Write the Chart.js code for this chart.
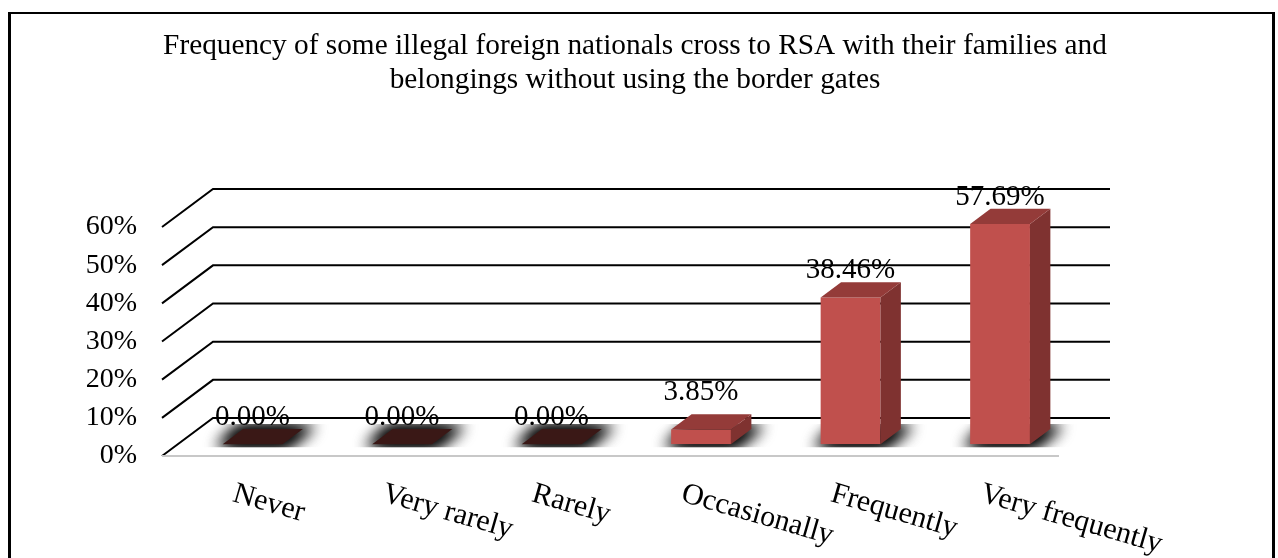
<!DOCTYPE html>
<html>
<head>
<meta charset="utf-8">
<script src="https://cdn.jsdelivr.net/npm/chart.js@4.4.1/dist/chart.umd.min.js"></script>
<style>
  html, body { margin: 0; padding: 0; background: #fff; overflow: hidden; }
  #wrap { position: relative; width: 1278px; height: 558px; }
  #frame {
    position: absolute; left: 8px; top: 12px; width: 1267px; height: 620px;
    box-sizing: border-box; border: 3px solid #000; border-top-width: 2px;
    pointer-events: none;
  }
</style>
</head>
<body>
<div id="wrap">
  <canvas id="chart" width="1278" height="558"></canvas>
  <div id="frame"></div>
</div>
<script>
// Response categories and share of respondents (%)
const categories = ['Never', 'Very rarely', 'Rarely', 'Occasionally', 'Frequently', 'Very frequently'];
const shares = [0.00, 0.00, 0.00, 3.85, 38.46, 57.69];
const titleLines = [
  'Frequency of some illegal foreign nationals cross to RSA with their families and',
  'belongings without using the border gates'
];
const axisMin = 0;
const axisMax = 60;
const axisStep = 10;

const SERIF = "'Times New Roman', 'Liberation Serif', serif";

// 3D projection of the floor depth, and where bars sit inside it
const DEPTH = { dx: 51, dy: -38 };
const BAR_FRONT = 0.31;
const BAR_DEPTH = 0.40;

const COLORS = {
  front: '#c0504d',
  side: '#7f3230',
  top: '#943b39',
  zeroTop: '#3a1816',
  grid: '#000000',
  floorEdge: '#c8c8c8'
};

const bars3d = {
  id: 'bars3d',
  beforeDatasetsDraw(chart) {
    const { ctx, chartArea: a, scales: { y } } = chart;
    const fx = DEPTH.dx * BAR_FRONT, fy = DEPTH.dy * BAR_FRONT;
    const bx = DEPTH.dx * BAR_DEPTH, by = DEPTH.dy * BAR_DEPTH;

    ctx.save();
    // side-wall and back-wall gridlines
    ctx.strokeStyle = COLORS.grid;
    ctx.lineWidth = 2;
    y.ticks.forEach(t => {
      const py = y.getPixelForValue(t.value);
      ctx.beginPath();
      ctx.moveTo(a.left, py);
      ctx.lineTo(a.left + DEPTH.dx, py + DEPTH.dy);
      ctx.lineTo(a.right + DEPTH.dx, py + DEPTH.dy);
      ctx.stroke();
    });
    // front edge of the floor
    ctx.strokeStyle = COLORS.floorEdge;
    ctx.beginPath();
    ctx.moveTo(a.left, a.bottom);
    ctx.lineTo(a.right, a.bottom);
    ctx.stroke();

    // soft shadows around each bar footprint
    const meta = chart.getDatasetMeta(0);
    const OFF = 5000;
    meta.data.forEach(bar => {
      const { x, base, width } = bar.getProps(['x', 'base', 'width'], true);
      const xl = x - width / 2 + fx, xr = x + width / 2 + fx, yb = base + fy;
      ctx.save();
      ctx.beginPath();
      ctx.rect(xl - 60, yb + by - 5, width + bx + 120, -by + 8);
      ctx.clip();
      ctx.shadowColor = 'rgba(0,0,0,1)';
      ctx.shadowBlur = 16;
      ctx.shadowOffsetX = OFF;
      ctx.fillStyle = '#000';
      for (let k = 0; k < 2; k++) {
        ctx.beginPath();
        ctx.moveTo(xl - 6 - OFF, yb + 3);
        ctx.lineTo(xr + 3 - OFF, yb + 3);
        ctx.lineTo(xr + bx + 12 - OFF, yb + by - 3);
        ctx.lineTo(xl + bx - 3 - OFF, yb + by - 3);
        ctx.closePath();
        ctx.fill();
      }
      ctx.restore();
    });
    ctx.restore();

    // front faces are drawn by Chart.js, pushed into the floor depth
    ctx.save();
    ctx.translate(fx, fy);
  },
  afterDatasetsDraw(chart) {
    const { ctx, scales: { x: xs } } = chart;
    ctx.restore();
    const fx = DEPTH.dx * BAR_FRONT, fy = DEPTH.dy * BAR_FRONT;
    const bx = DEPTH.dx * BAR_DEPTH, by = DEPTH.dy * BAR_DEPTH;
    const meta = chart.getDatasetMeta(0);
    const values = chart.data.datasets[0].data;

    ctx.save();
    meta.data.forEach((bar, i) => {
      const { x, y, base, width } = bar.getProps(['x', 'y', 'base', 'width'], true);
      const xl = x - width / 2 + fx, xr = x + width / 2 + fx;
      const yt = y + fy, yb = base + fy;
      if (yb - yt > 0.5) {
        ctx.fillStyle = COLORS.side;
        ctx.beginPath();
        ctx.moveTo(xr, yb);
        ctx.lineTo(xr + bx, yb + by);
        ctx.lineTo(xr + bx, yt + by);
        ctx.lineTo(xr, yt);
        ctx.closePath();
        ctx.fill();
      }
      ctx.fillStyle = values[i] > 0 ? COLORS.top : COLORS.zeroTop;
      ctx.beginPath();
      ctx.moveTo(xl, yt);
      ctx.lineTo(xr, yt);
      ctx.lineTo(xr + bx, yt + by);
      ctx.lineTo(xl + bx, yt + by);
      ctx.closePath();
      ctx.fill();

      // value label above the bar
      let ly = yt - 19;
      if (values[i] > 0) ly = Math.min(ly, yb - 44);
      ctx.fillStyle = '#000';
      ctx.font = '29px ' + SERIF;
      ctx.textAlign = 'center';
      ctx.textBaseline = 'alphabetic';
      ctx.fillText(values[i].toFixed(2) + '%', x + fx, ly);
    });

    // slanted category labels along the floor
    ctx.font = '30px ' + SERIF;
    ctx.textAlign = 'left';
    ctx.textBaseline = 'top';
    ctx.fillStyle = '#000';
    chart.data.labels.forEach((lab, i) => {
      const px = xs.getPixelForValue(i);
      ctx.save();
      ctx.translate(px + 1, 479);
      ctx.rotate(16 * Math.PI / 180);
      ctx.fillText(lab, 0, 0);
      ctx.restore();
    });
    ctx.restore();
  }
};

new Chart(document.getElementById('chart'), {
  type: 'bar',
  data: {
    labels: categories,
    datasets: [{
      data: shares,
      backgroundColor: COLORS.front,
      borderWidth: 0,
      categoryPercentage: 1.0,
      barPercentage: 0.4
    }]
  },
  options: {
    responsive: false,
    animation: false,
    events: [],
    layout: { padding: { left: 0, right: 8, top: 0, bottom: 102 } },
    plugins: {
      legend: { display: false },
      tooltip: { enabled: false },
      title: {
        display: true,
        text: titleLines,
        color: '#000',
        font: { family: SERIF, size: 29.3, weight: 'normal', lineHeight: 34 / 29.3 },
        padding: { top: 29, bottom: 130 }
      }
    },
    scales: {
      x: { display: false },
      y: {
        min: axisMin,
        max: axisMax,
        afterFit(scale) { scale.width = 162; },
        grid: { display: false, drawTicks: false },
        border: { display: false },
        ticks: {
          stepSize: axisStep,
          padding: 25,
          color: '#000',
          font: { family: SERIF, size: 28 },
          callback: v => v + '%'
        }
      },
      // empty right-hand margin column
      yRight: {
        position: 'right',
        display: true,
        afterFit(scale) { scale.width = 211; },
        grid: { display: false, drawTicks: false },
        border: { display: false },
        ticks: { display: false }
      }
    }
  },
  plugins: [bars3d]
});
</script>
</body>
</html>
